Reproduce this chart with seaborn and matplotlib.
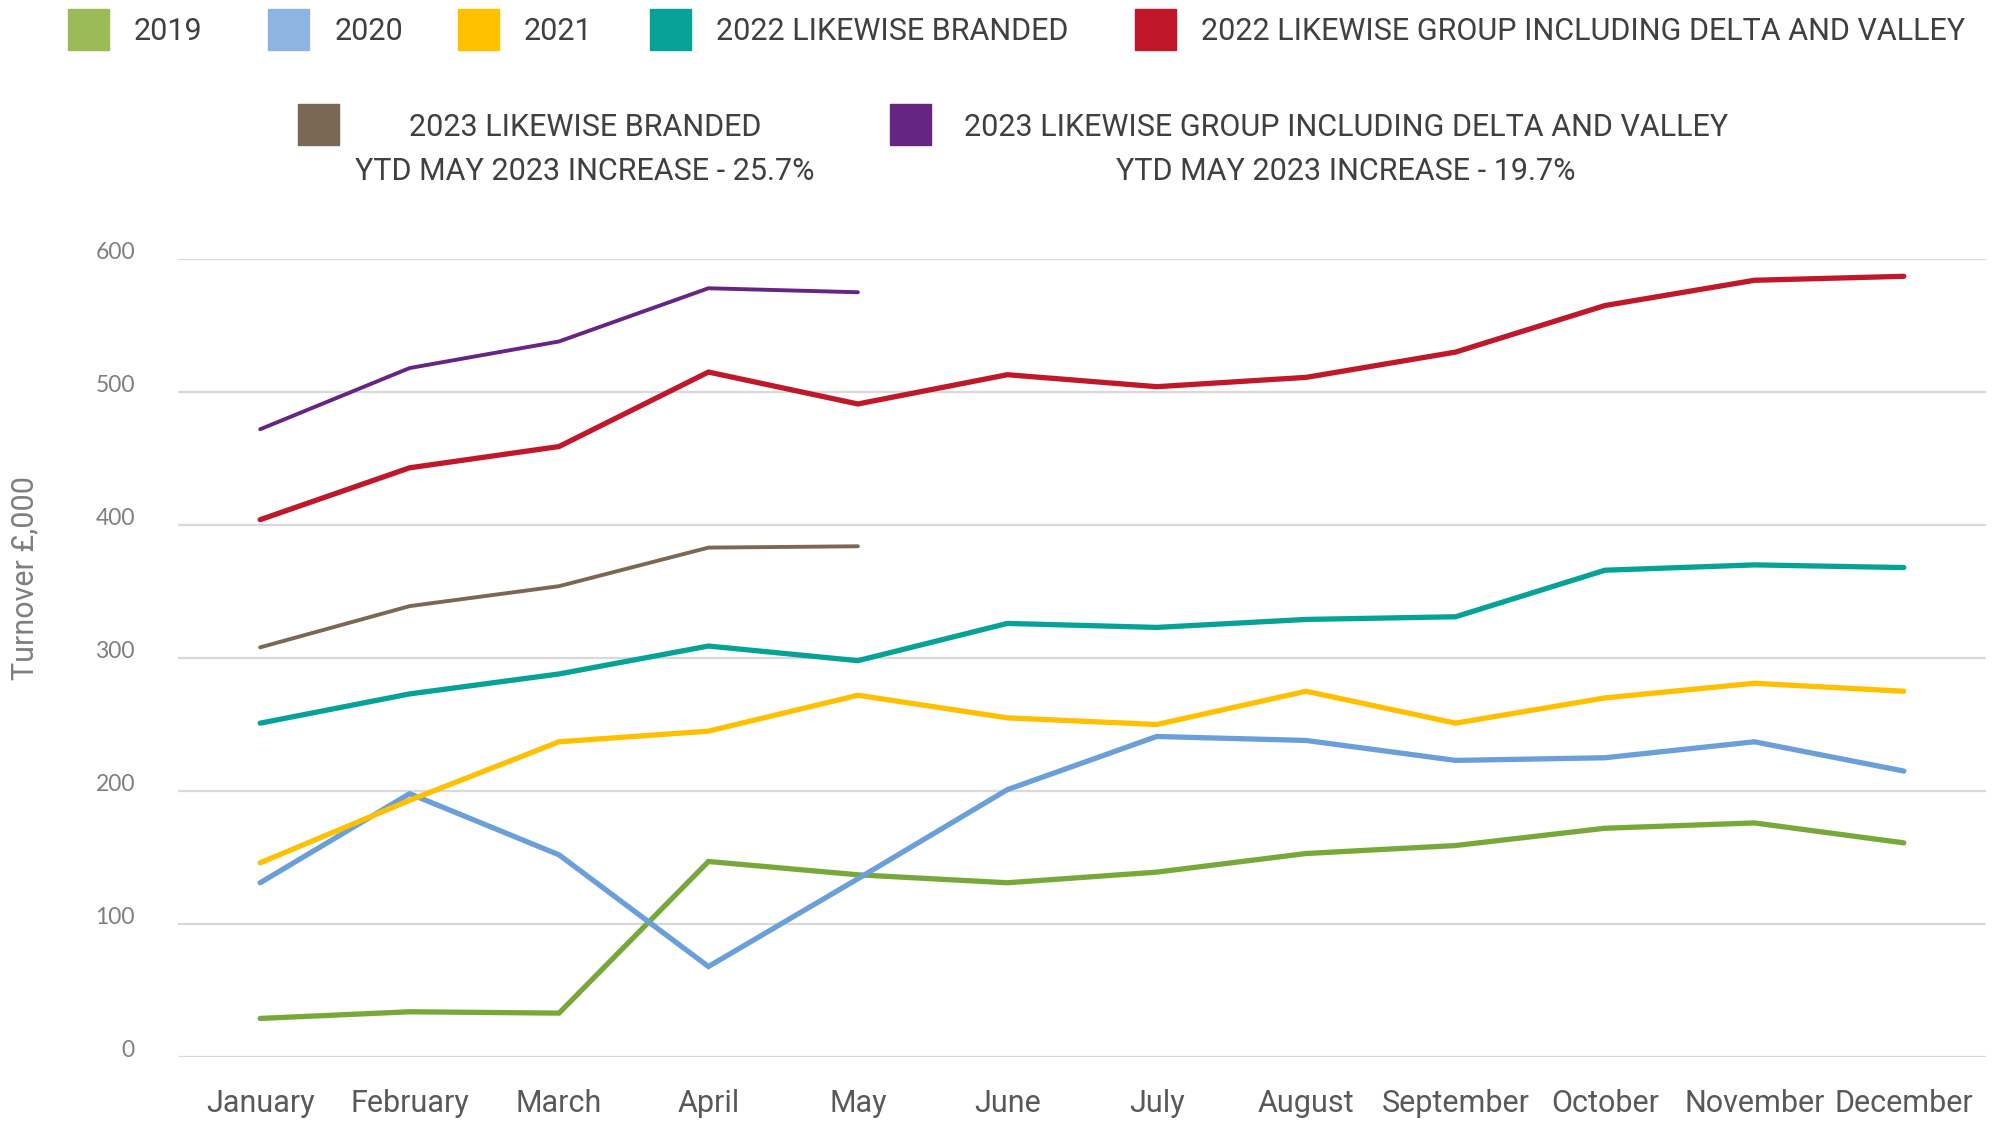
import matplotlib
matplotlib.use("Agg")
import matplotlib.pyplot as plt
from matplotlib.patches import Rectangle
import seaborn as sns
import pandas as pd
import numpy as np

months = ["January", "February", "March", "April", "May", "June", "July",
          "August", "September", "October", "November", "December"]

s2019 = [29, 34, 33, 147, 137, 131, 139, 153, 159, 172, 176, 161]
s2020 = [131, 198, 152, 68, 134, 201, 241, 238, 223, 225, 237, 215]
s2021 = [146, 193, 237, 245, 272, 255, 250, 275, 251, 270, 281, 275]
s2022_branded = [251, 273, 288, 309, 298, 326, 323, 329, 331, 366, 370, 368]
s2022_group = [404, 443, 459, 515, 491, 513, 504, 511, 530, 565, 584, 587]
s2023_branded = [308, 339, 354, 383, 384]
s2023_group = [472, 518, 538, 578, 575]

series_names = ["2019", "2020", "2021", "2022 LIKEWISE BRANDED",
                "2022 LIKEWISE GROUP INCLUDING DELTA AND VALLEY",
                "2023 LIKEWISE BRANDED",
                "2023 LIKEWISE GROUP INCLUDING DELTA AND VALLEY"]
series_values = [s2019, s2020, s2021, s2022_branded, s2022_group,
                 s2023_branded, s2023_group]
line_colors = ["#77A83A", "#6A9FD8", "#FFC000", "#06A297", "#C0182A",
               "#7A6854", "#662483"]
legend_colors = ["#9BBB59", "#8EB4E3", "#FFC000", "#06A297", "#C0182A",
                 "#7A6854", "#662483"]
line_widths = [3.8, 3.8, 3.8, 3.8, 3.8, 2.8, 2.8]

ytd_notes = ["YTD MAY 2023 INCREASE - 25.7%", "YTD MAY 2023 INCREASE - 19.7%"]

rows = []
for name, vals in zip(series_names, series_values):
    for i, v in enumerate(vals):
        rows.append({"series": name, "month_idx": i, "value": v})
df = pd.DataFrame(rows)

sns.set_theme(style="white")
narrow = ["Roboto", "DejaVu Sans"]
plt.rcParams["font.family"] = narrow

W, H = 1999, 1121
fig = plt.figure(figsize=(W / 100, H / 100), dpi=100)
ax = fig.add_axes([178 / W, 1 - 1057 / H, (1986 - 178) / W, (1057 - 259) / H])

for name, col, lw in zip(series_names, line_colors, line_widths):
    sub = df[df["series"] == name]
    sns.lineplot(data=sub, x="month_idx", y="value", color=col, linewidth=lw,
                 ax=ax, sort=False, legend=False, solid_capstyle="round",
                 solid_joinstyle="miter")

ax.set_xlim(-0.55, 11.55)
ax.set_ylim(0, 600)
ax.set_yticks(np.arange(0, 601, 100))
ax.yaxis.grid(True, color="#D9D9D9", linewidth=1.6)
ax.set_axisbelow(True)
for sp in ax.spines.values():
    sp.set_visible(False)
ax.set_xticks(range(12))
ax.set_xticklabels(months, fontsize=22, color="#595959", family=narrow)
ax.tick_params(axis="x", length=0, pad=23)
ax.tick_params(axis="y", length=0, pad=31)
for lab in ax.get_yticklabels():
    lab.set_fontfamily(["Lato", "DejaVu Sans"])
    lab.set_fontsize(16.5)
    lab.set_color("#7F7F7F")
    lab.set_verticalalignment("baseline")
ax.set_xlabel("")
ax.set_ylabel("")

fig.text(25 / W, 1 - 578 / H, "Turnover £,000", rotation=90, ha="center",
         va="center", fontsize=22, color="#7F7F7F", family=narrow)

# Legend row 1
sq = 41
row1 = [(68, 134), (268, 335), (458, 524), (650, 716), (1135, 1201)]
for (sx, tx), name, col in zip(row1, series_names[:5], legend_colors[:5]):
    fig.patches.append(Rectangle((sx / W, 1 - 50 / H), sq / W, sq / H,
                                 transform=fig.transFigure, color=col))
    fig.text(tx / W, 1 - 32 / H, name, ha="left", va="center", fontsize=22,
             color="#404040", family=narrow)

# Legend row 2
row2 = [(298, 585), (890, 1346)]
for (sx, cx), name, col, note in zip(row2, series_names[5:], legend_colors[5:], ytd_notes):
    fig.patches.append(Rectangle((sx / W, 1 - 145 / H), sq / W, sq / H,
                                 transform=fig.transFigure, color=col))
    fig.text(cx / W, 1 - 128 / H, name, ha="center", va="center", fontsize=22,
             color="#404040", family=narrow)
    fig.text(cx / W, 1 - 171 / H, note, ha="center", va="center", fontsize=22,
             color="#404040", family=narrow)

fig.savefig("out.png", dpi=100)
